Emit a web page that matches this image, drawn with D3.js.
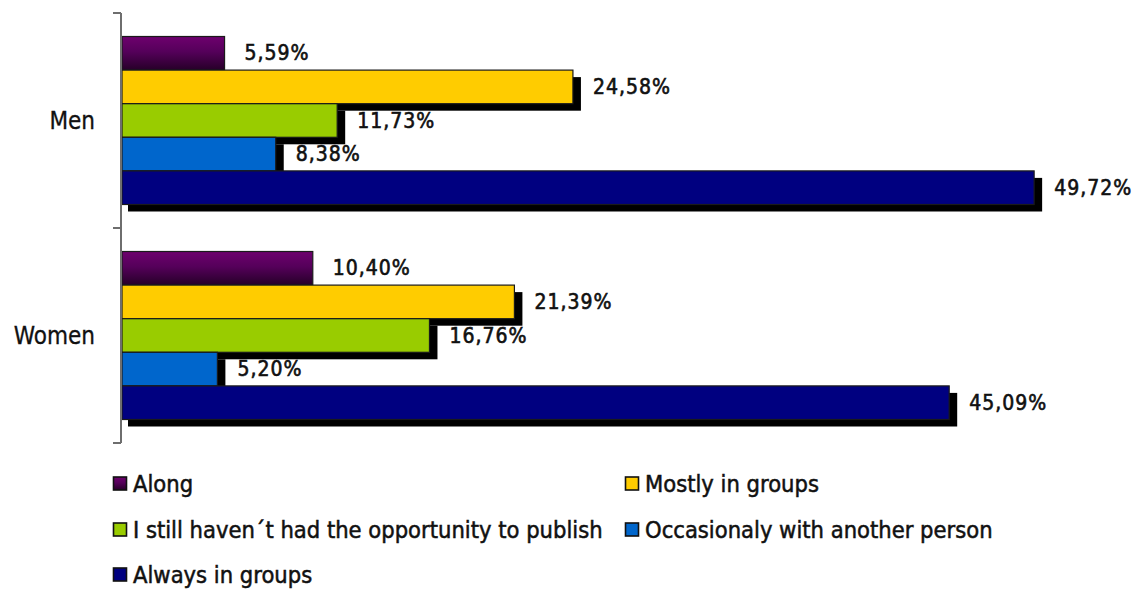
<!DOCTYPE html>
<html>
<head>
<meta charset="utf-8">
<script src="https://cdn.jsdelivr.net/npm/d3@7"></script>
<style>
  html, body { margin: 0; padding: 0; background: #fff; }
  svg text { font-family: "DejaVu Sans Condensed", "DejaVu Sans", sans-serif; fill: #111; }
</style>
</head>
<body>
<svg id="chart" width="1142" height="591"></svg>
<script>
// Groups on the vertical axis
const groups = ["Men", "Women"];

// Answer categories (one bar per category within each group)
const seriesNames = [
  "Along",
  "Mostly in groups",
  "I still haven´t had the opportunity to publish",
  "Occasionaly with another person",
  "Always in groups"
];

// Percentages per group, in the same order as seriesNames
const menValues   = [5.59, 24.58, 11.73, 8.38, 49.72];
const womenValues = [10.40, 21.39, 16.76, 5.20, 45.09];

const seriesColors = ["#660066", "#ffcc00", "#99cc00", "#0066cc", "#000080"];

const valuesByGroup = { Men: menValues, Women: womenValues };
const rows = [];
groups.forEach(g => {
  valuesByGroup[g].forEach((v, i) => rows.push({ group: g, series: seriesNames[i], idx: i, value: v }));
});

const svg = d3.select("#chart");

// Defs: gradient for the first series
const defs = svg.append("defs");
const grad = defs.append("linearGradient")
  .attr("id", "purpleGrad").attr("x1", 0).attr("y1", 0).attr("x2", 0).attr("y2", 1);
grad.append("stop").attr("offset", "0%").attr("stop-color", "#6e006e");
grad.append("stop").attr("offset", "45%").attr("stop-color", "#55005a");
grad.append("stop").attr("offset", "100%").attr("stop-color", "#260028");

const fillFor = i => i === 0 ? "url(#purpleGrad)" : seriesColors[i];

const axisX = 121;
const x = d3.scaleLinear().domain([0, 55]).range([122, 1131]);
const y = d3.scaleBand().domain(groups).range([13, 443]);

const blockH = 168;
const inner = d3.scaleBand()
  .domain(d3.range(seriesNames.length))
  .range([(y.bandwidth() - blockH) / 2, (y.bandwidth() + blockH) / 2]);

const barY = d => y(d.group) + inner(d.idx);
const fmt = v => d3.format(".2f")(v).replace(".", ",") + "%";

// Value labels sit beneath the bars so the drop shadows overlap them
svg.append("g").selectAll("text")
  .data(rows).join("text")
  .attr("x", d => x(d.value) + 20)
  .attr("y", d => barY(d) + inner.bandwidth() / 2)
  .attr("dominant-baseline", "central")
  .attr("font-size", 21)
  .attr("letter-spacing", 1)
  .attr("stroke", "#111").attr("stroke-width", 0.6)
  .text(d => fmt(d.value));

// Drop shadows (flat-filled series only)
const shadowOff = 7;
svg.append("g").selectAll("rect")
  .data(rows.filter(d => d.idx !== 0)).join("rect")
  .attr("x", x(0) + shadowOff - 1)
  .attr("y", d => barY(d) + shadowOff)
  .attr("width", d => x(d.value) - x(0) + 2)
  .attr("height", inner.bandwidth())
  .attr("fill", "#000");

// Bars, drawn per series so later bars cover earlier shadows
const barG = svg.append("g");
rows.forEach(d => {
  barG.append("rect")
    .attr("x", x(0))
    .attr("y", barY(d))
    .attr("width", x(d.value) - x(0))
    .attr("height", inner.bandwidth())
    .attr("fill", fillFor(d.idx))
    .attr("stroke", "#1a1a1a")
    .attr("stroke-width", 1.2);
});

// Category axis: line with ticks at the group boundaries
const axisG = svg.append("g").attr("stroke", "#6e6e6e").attr("stroke-width", 2);
axisG.append("line").attr("x1", axisX).attr("x2", axisX).attr("y1", y.range()[0]).attr("y2", y.range()[1]);
const tickYs = groups.map(g => y(g)).concat([y.range()[1]]);
axisG.selectAll("line.tick").data(tickYs).join("line").attr("class", "tick")
  .attr("x1", axisX - 8).attr("x2", axisX).attr("y1", d => d).attr("y2", d => d);

svg.append("g").selectAll("text")
  .data(groups).join("text")
  .attr("x", 95)
  .attr("y", g => y(g) + y.bandwidth() / 2)
  .attr("text-anchor", "end")
  .attr("dominant-baseline", "central")
  .attr("font-size", 24)
  .attr("stroke", "#111").attr("stroke-width", 0.3)
  .text(g => g);

// Legend: two columns, three rows
const legendCols = [113, 625];
const legendRows = [484, 530, 575];
const lg = svg.append("g").selectAll("g")
  .data(seriesNames).join("g")
  .attr("transform", (s, i) => `translate(${legendCols[i % 2]},${legendRows[Math.floor(i / 2)]})`);
lg.append("rect")
  .attr("x", 0.5).attr("y", -7).attr("width", 13).attr("height", 13)
  .attr("fill", (s, i) => fillFor(i))
  .attr("stroke", "#111").attr("stroke-width", 1.6);
lg.append("text")
  .attr("x", 20).attr("y", 0)
  .attr("dominant-baseline", "central")
  .attr("font-size", 23.5)
  .attr("stroke", "#111").attr("stroke-width", 0.5)
  .text(s => s);
</script>
</body>
</html>
